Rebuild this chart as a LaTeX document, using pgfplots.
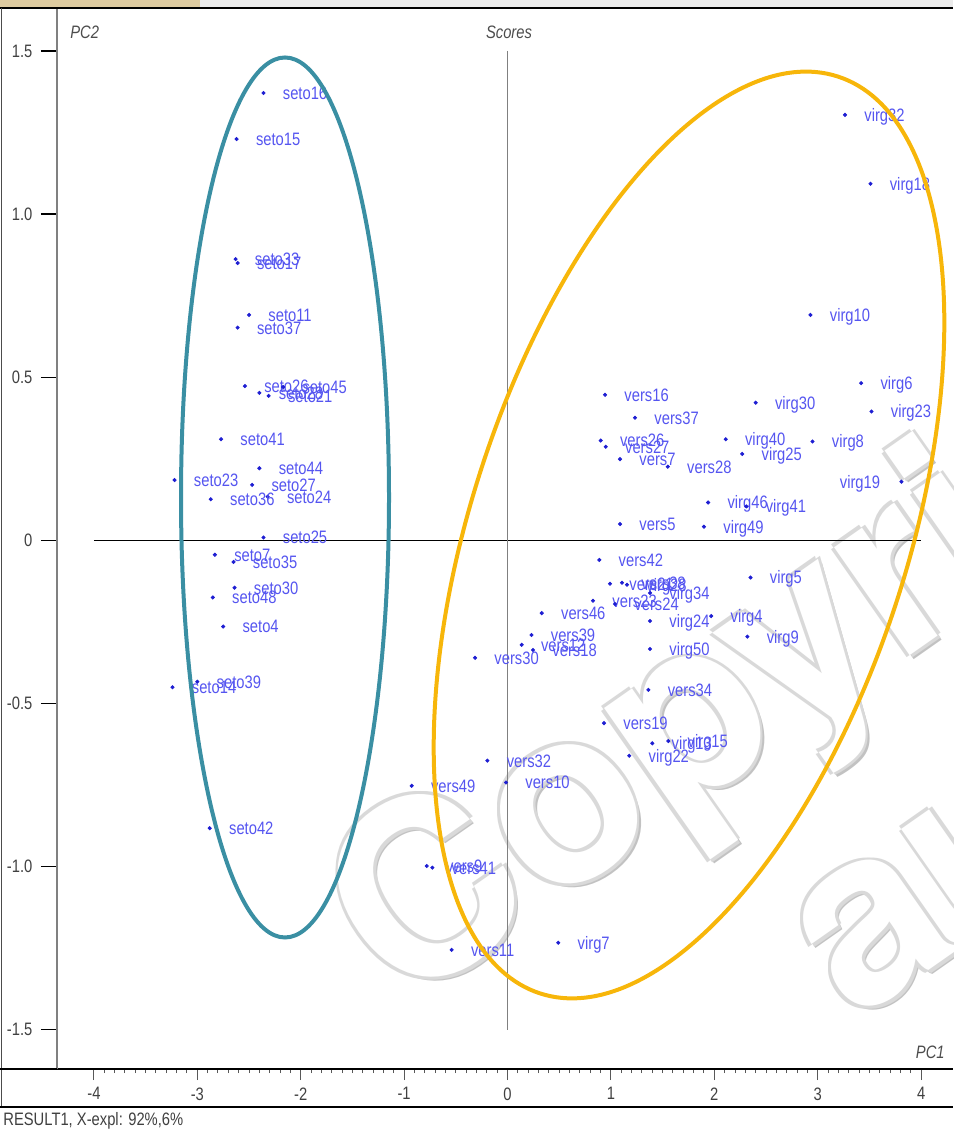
\documentclass[border=0pt]{standalone}
\usepackage{fontspec}
\setmainfont{Liberation Sans}[FakeStretch=0.82]
\newfontfamily\wmfont{TeX Gyre Heros}
\usepackage{pgfplots}
\pgfplotsset{compat=1.18}
\usepackage{pgfplotstable}

\definecolor{lblue}{RGB}{85,85,240}
\definecolor{dblue}{RGB}{30,30,210}
\definecolor{tealring}{RGB}{58,143,163}
\definecolor{orng}{RGB}{247,182,10}
\definecolor{beige}{RGB}{222,203,160}

\pgfplotstableread{
x y label
-2.36 1.371 seto16
-2.62 1.230 seto15
-2.63 0.862 seto33
-2.61 0.850 seto17
-2.50 0.691 seto11
-2.61 0.652 seto37
-2.54 0.473 seto26
-2.40 0.452 seto28
-2.17 0.470 seto45
-2.31 0.443 seto21
-2.77 0.310 seto41
-2.40 0.221 seto44
-3.22 0.185 seto23
-2.47 0.170 seto27
-2.32 0.134 seto24
-2.87 0.126 seto36
-2.36 0.009 seto25
-2.83 -0.044 seto7
-2.65 -0.066 seto35
-2.64 -0.145 seto30
-2.85 -0.175 seto48
-2.75 -0.264 seto4
-3.24 -0.450 seto14
-3.00 -0.433 seto39
-2.88 -0.882 seto42
}\seto

\pgfplotstableread{
x y label
0.943 0.446 vers16
1.233 0.376 vers37
0.901 0.306 vers26
0.950 0.287 vers27
1.088 0.249 vers7
1.550 0.226 vers28
1.088 0.050 vers5
0.888 -0.060 vers42
0.991 -0.133 vers21
1.107 -0.130 vers38
0.827 -0.185 vers23
1.040 -0.195 vers24
0.331 -0.223 vers46
0.232 -0.290 vers39
0.137 -0.320 vers12
0.247 -0.336 vers18
-0.314 -0.360 vers30
1.362 -0.458 vers34
0.933 -0.560 vers19
-0.195 -0.675 vers32
-0.015 -0.742 vers10
-0.927 -0.752 vers49
-0.781 -0.998 vers9
-0.727 -1.003 vers41
-0.540 -1.255 vers11
}\vers

\pgfplotstableread{
x y label
3.264 1.304 virg32
3.510 1.093 virg18
2.930 0.691 virg10
3.420 0.482 virg6
3.520 0.395 virg23
2.400 0.422 virg30
2.110 0.310 virg40
2.950 0.303 virg8
2.270 0.265 virg25
1.940 0.116 virg46
2.310 0.104 virg41
1.900 0.042 virg49
2.350 -0.114 virg5
1.156 -0.136 virg28
1.378 -0.161 virg34
1.378 -0.247 virg24
1.970 -0.232 virg4
2.320 -0.295 virg9
1.378 -0.333 virg50
1.400 -0.622 virg13
1.555 -0.615 virg15
1.178 -0.660 virg22
0.491 -1.233 virg7
}\virg

\pgfplotstableread{
x y label
3.810 0.180 virg19
}\virgleft

\tikzset{wm/.style={anchor=base west, inner sep=0pt, rotate=35, font=\wmfont\bfseries\fontsize{122}{134}\selectfont}}
\newcommand\wmtext[3]{%
  \node[wm, text=black!24] at ({#1+2pt},{#2-2pt}) {#3};
  \foreach \dx/\dy in {1.3/1.3,1.3/-1.3,-1.3/1.3,-1.3/-1.3}{
    \node[wm, text=black!15] at ({#1+\dx pt},{#2+\dy pt}) {#3};
  }
  \node[wm, text=white] at (#1,#2) {#3};
}

\begin{document}
\begin{tikzpicture}
% watermark (beneath the chart): white letters with a soft grey rim
\wmtext{172.25pt}{28.65pt}{Copyright}
\wmtext{398.6pt}{22.95pt}{au}
\begin{axis}[
  at={(0,0)}, anchor=south west,
  x=51.7pt, y=163.15pt,
  xmin=-4.357, xmax=4.309, ymin=-1.620, ymax=1.632,
  axis x line*=bottom, axis y line*=left,
  x axis line style={black, line width=0.6pt},
  y axis line style={black!50, line width=0.6pt},
  tick align=outside,
  xtick={-4,-3,-2,-1,0,1,2,3,4},
  xticklabels={-4,-3,-2,-1,0,1,2,3,4},
  minor x tick num=9,
  ytick={-1.5,-1,-0.5,0,0.5,1,1.5},
  yticklabels={-1.5,-1.0,-0.5,0,0.5,1.0,1.5},
  xtick style={color=black!65, /pgfplots/major tick length=5.5pt, /pgfplots/minor tick length=2pt, line width=0.5pt},
  ytick style={color=black, /pgfplots/major tick length=8pt, line width=0.6pt},
  ticklabel style={font=\fontsize{9}{10}\selectfont, text=black!75},
  xticklabel style={yshift=-1.5pt},
  yticklabel style={xshift=-4.5pt},
  clip=false,
  every node near coord/.append style={anchor=base west, xshift=9.5pt, yshift=-3.2pt, inner sep=0pt, font=\fontsize{9}{10}\selectfont, text=lblue},
]
\draw[black, line width=0.6pt] (axis cs:-4,0) -- (axis cs:4,0);
\draw[black!50, line width=0.6pt] (axis cs:0,1.5) -- (axis cs:0,-1.5);
\addplot[only marks, mark=*, mark size=0.8pt, dblue, point meta=explicit symbolic, nodes near coords] table[meta=label] {\seto};
\addplot[only marks, mark=*, mark size=0.8pt, dblue, point meta=explicit symbolic, nodes near coords] table[meta=label] {\vers};
\addplot[only marks, mark=*, mark size=0.8pt, dblue, point meta=explicit symbolic, nodes near coords] table[meta=label] {\virg};
\addplot[only marks, mark=*, mark size=0.8pt, dblue, point meta=explicit symbolic, nodes near coords,
  every node near coord/.append style={anchor=base east, xshift=-20pt}] table[meta=label] {\virgleft};
\end{axis}
% window frame
\fill[beige] (-28.5pt,531pt) rectangle (71.5pt,534.5pt);
\fill[black!8] (71.5pt,531pt) rectangle (448pt,534.5pt);
\draw[black, line width=1pt] (-28.5pt,530.5pt) -- (448pt,530.5pt);
\draw[black!70, line width=0.6pt] (-27.75pt,530.5pt) -- (-27.75pt,-19pt);
\draw[black, line width=0.6pt] (-28.5pt,-19pt) -- (448pt,-19pt);
\draw[black, line width=0.6pt] (-28.5pt,0pt) -- (0pt,0pt);
% titles
\node[anchor=west, inner sep=0pt, font=\fontsize{9}{10}\selectfont\itshape, text=black!70] at (6.5pt,518.5pt) {PC2};
\node[anchor=center, inner sep=0pt, font=\fontsize{9}{10}\selectfont\itshape, text=black!70] at (226pt,518.5pt) {Scores};
\node[anchor=east, inner sep=0pt, font=\fontsize{9}{10}\selectfont\itshape, text=black!70] at (444pt,8.5pt) {PC1};
\node[anchor=west, inner sep=0pt, font=\fontsize{9}{10}\selectfont, text=black!75] at (-27pt,-26pt) {RESULT1, X-expl: 92\%,6\%};
% group ellipses
\draw[tealring, line width=2pt] (114pt,285.75pt) ellipse [x radius=52pt, y radius=220pt];
\draw[orng, line width=2pt, rotate around={72:(316pt,267pt)}] (316pt,267pt) ellipse [x radius=241pt, y radius=109pt];
\pgfresetboundingbox
\path[use as bounding box] (-28.5pt,-32pt) rectangle (448pt,534.5pt);
\end{tikzpicture}
\end{document}
